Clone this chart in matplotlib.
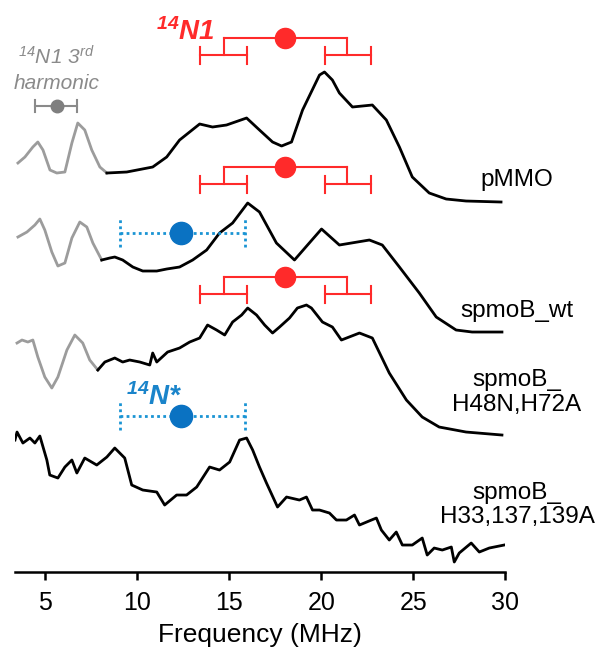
import matplotlib
matplotlib.use('Agg')
import matplotlib.pyplot as plt

plt.rcParams['font.family'] = ['Liberation Sans', 'DejaVu Sans']
plt.rcParams['mathtext.fontset'] = 'custom'
plt.rcParams['mathtext.rm'] = 'Liberation Sans:italic'
plt.rcParams['mathtext.it'] = 'Liberation Sans:italic'
plt.rcParams['mathtext.bf'] = 'Liberation Sans:italic:bold'

# ---------------- data (frequency in MHz, stacked intensity, a.u.) ----------------
# pMMO
pmmo_harm_f = [3.52, 3.90, 4.33, 4.60, 4.88, 5.26, 5.63, 6.07, 6.45, 6.77, 7.15, 7.53, 7.97, 8.35]
pmmo_harm_y = [4.37, 4.43, 4.53, 4.58, 4.50, 4.30, 4.27, 4.28, 4.57, 4.77, 4.70, 4.50, 4.33, 4.27]
pmmo_f = [8.35, 9.43, 10.84, 11.60, 12.30, 13.39, 14.09, 14.85, 15.94, 16.64, 17.35, 17.84,
          18.38, 18.98, 19.90, 20.17, 20.60, 20.98, 21.69, 22.77, 23.53, 24.24, 24.94, 25.86,
          26.78, 27.86, 29.76]
pmmo_y = [4.27, 4.28, 4.33, 4.43, 4.60, 4.76, 4.73, 4.75, 4.82, 4.70, 4.58, 4.54,
          4.58, 4.90, 5.25, 5.28, 5.20, 5.07, 4.93, 4.95, 4.80, 4.53, 4.23, 4.07,
          4.01, 3.99, 3.98]

# spmoB_wt
wt_harm_f = [3.52, 4.01, 4.44, 4.71, 4.98, 5.36, 5.69, 6.07, 6.45, 6.88, 7.26, 7.59, 8.07]
wt_harm_y = [3.63, 3.68, 3.75, 3.81, 3.70, 3.48, 3.34, 3.37, 3.62, 3.78, 3.73, 3.57, 3.40]
wt_f = [8.07, 8.51, 8.78, 9.21, 9.76, 10.30, 11.06, 11.60, 12.30, 13.01, 13.77, 14.47, 15.18,
        16.00, 16.64, 17.56, 18.54, 19.25, 20.01, 20.98, 22.61, 23.31, 24.24, 25.32, 26.24,
        27.32, 28.19, 29.81]
wt_y = [3.40, 3.42, 3.43, 3.40, 3.33, 3.29, 3.29, 3.31, 3.33, 3.40, 3.50, 3.67, 3.77,
        3.97, 3.88, 3.57, 3.40, 3.55, 3.71, 3.55, 3.60, 3.55, 3.33, 3.07, 2.83,
        2.70, 2.68, 2.68]

# spmoB_H48N,H72A
h48_harm_f = [3.47, 3.74, 4.06, 4.33, 4.60, 4.98, 5.36, 5.69, 6.18, 6.61, 7.04, 7.42, 7.86]
h48_harm_y = [2.57, 2.60, 2.58, 2.60, 2.43, 2.23, 2.12, 2.23, 2.50, 2.65, 2.57, 2.40, 2.30]
h48_f = [7.86, 8.24, 8.78, 9.21, 9.59, 10.14, 10.68, 10.84, 11.06, 11.65, 12.30, 12.85, 13.39,
         13.82, 14.31, 14.75, 15.18, 15.67, 16.00, 16.48, 16.92, 17.35, 17.73, 18.27, 18.70,
         19.19, 19.46, 20.06, 20.60, 21.09, 22.07, 22.77, 23.69, 24.62, 25.48, 26.40, 27.86, 29.81]
h48_y = [2.30, 2.38, 2.42, 2.38, 2.40, 2.38, 2.35, 2.47, 2.38, 2.48, 2.52, 2.58, 2.62,
         2.75, 2.70, 2.65, 2.78, 2.85, 2.92, 2.85, 2.75, 2.67, 2.73, 2.82, 2.92,
         2.95, 2.92, 2.78, 2.73, 2.60, 2.67, 2.62, 2.27, 2.00, 1.83, 1.73, 1.68, 1.65]

# spmoB_H33,137,139A
h33_f = [3.36, 3.47, 3.79, 4.17, 4.44, 4.71, 5.09, 5.25, 5.69, 6.07, 6.45, 6.72, 7.15, 7.80,
         8.35, 8.78, 9.32, 9.70, 10.30, 11.06, 11.49, 12.14, 12.68, 13.23, 13.93, 14.47, 15.02,
         15.56, 15.94, 16.27, 16.64, 17.02, 17.62, 18.11, 18.81, 19.19, 19.52, 19.90, 20.44,
         20.82, 21.36, 21.80, 22.07, 22.72, 22.99, 23.26, 23.69, 24.07, 24.40, 24.94, 25.48,
         25.75, 26.13, 26.57, 27.06, 27.22, 27.49, 28.14, 28.58, 29.12, 29.93]
h33_y = [1.60, 1.68, 1.57, 1.62, 1.57, 1.64, 1.40, 1.25, 1.22, 1.33, 1.40, 1.27, 1.42, 1.35,
         1.43, 1.52, 1.42, 1.15, 1.10, 1.08, 0.95, 1.05, 1.05, 1.13, 1.33, 1.30, 1.38,
         1.60, 1.62, 1.50, 1.33, 1.17, 0.93, 1.03, 1.00, 1.03, 0.90, 0.90, 0.87,
         0.80, 0.80, 0.85, 0.75, 0.80, 0.82, 0.70, 0.60, 0.68, 0.55, 0.55, 0.62,
         0.45, 0.52, 0.50, 0.53, 0.38, 0.47, 0.57, 0.48, 0.52, 0.55]

# 14N1 splitting pattern (MHz)
n1_center = 18.0
n1_branches = [14.7, 21.4]
n1_lines = [(13.4, 15.95), (20.2, 22.7)]
n1_levels = [5.62, 4.33, 3.23]          # vertical level of each stick diagram

# 14N* pattern (MHz)
nstar_center = 12.4
nstar_span = (9.05, 15.83)
nstar_levels = [3.67, 1.84]

# 14N1 3rd harmonic marker
harm_center = 5.63
harm_span = (4.44, 6.72)
harm_level = 4.94

sample_names = ['pMMO', 'spmoB_wt', 'spmoB_\nH48N,H72A', 'spmoB_\nH33,137,139A']
label_levels = [4.20, 2.89, 2.075, 0.95]

x_ticks = [5, 10, 15, 20, 25, 30]

# ---------------- figure ----------------
RED = '#FF2A2A'
BLUE_DOT = '#0A72C2'
BLUE_LINE = '#1A94D4'
GRAY = '#9C9C9C'

fig = plt.figure(figsize=(6.07, 6.49), dpi=100)
ax = fig.add_axes([0.0247, 0.1186, 0.808, 0.8814])

lw = 2.0
for hf, hy in [(pmmo_harm_f, pmmo_harm_y), (wt_harm_f, wt_harm_y), (h48_harm_f, h48_harm_y)]:
    ax.plot(hf, hy, color=GRAY, lw=lw, solid_joinstyle='round')
for f, y in [(pmmo_f, pmmo_y), (wt_f, wt_y), (h48_f, h48_y), (h33_f, h33_y)]:
    ax.plot(f, y, color='black', lw=lw, solid_joinstyle='round')

# red 14N1 stick diagrams
drop = 0.17
cap = 0.085
for lev in n1_levels:
    low = lev - drop
    ax.plot([n1_branches[0], n1_branches[1]], [lev, lev], color=RED, lw=1.5)
    for b in n1_branches:
        ax.plot([b, b], [lev, low], color=RED, lw=1.5)
    for a, b in n1_lines:
        ax.plot([a, b], [low, low], color=RED, lw=1.5)
        for e in (a, b):
            ax.plot([e, e], [low - cap, low + cap], color=RED, lw=1.5)
    ax.plot([n1_center], [lev], 'o', color=RED, ms=14.5, mec=RED, zorder=5)

# blue 14N* diagrams
bcap = 0.14
for lev in nstar_levels:
    ax.plot(list(nstar_span), [lev, lev], color=BLUE_LINE, lw=2, ls=(0, (1, 1.2)))
    for e in nstar_span:
        ax.plot([e, e], [lev - bcap, lev + bcap], color=BLUE_LINE, lw=2, ls=(0, (1, 1.2)))
    ax.plot([nstar_center], [lev], 'o', color=BLUE_DOT, ms=16, mec=BLUE_DOT, zorder=5)

# gray harmonic marker
ax.plot(list(harm_span), [harm_level, harm_level], color='#8A8A8A', lw=1.5)
for e in harm_span:
    ax.plot([e, e], [harm_level - 0.06, harm_level + 0.06], color='#8A8A8A', lw=1.5)
ax.plot([harm_center], [harm_level], 'o', color='#7F7F7F', ms=9, zorder=5)

# texts
ax.text(12.6, 5.68, r'$\mathbf{^{14}}$N1', color=RED, fontsize=20, fontweight='bold',
        fontstyle='italic', ha='center', va='center')
ax.text(10.9, 2.03, r'$\mathbf{^{14}}$N*', color='#1A84CA', fontsize=20, fontweight='bold',
        fontstyle='italic', ha='center', va='center')
ax.text(5.63, 5.43, r'$^{14}$N1 3$^{rd}$', color='#8A8A8A', fontsize=15,
        fontstyle='italic', ha='center', va='center')
ax.text(5.63, 5.17, 'harmonic', color='#8A8A8A', fontsize=15,
        fontstyle='italic', ha='center', va='center')

for name, lev in zip(sample_names, label_levels):
    ax.text(30.63, lev, name, fontsize=17.5, ha='center', va='center',
            linespacing=1.15, clip_on=False)

ax.set_xlim(3.36, 30)
ax.set_ylim(0.28, 6.0)
for s in ['top', 'left', 'right']:
    ax.spines[s].set_visible(False)
ax.spines['bottom'].set_linewidth(1.8)
ax.set_yticks([])
ax.set_xticks(x_ticks)
ax.tick_params(axis='x', direction='out', length=6, width=1.8, labelsize=18, pad=7.5)
ax.set_xlabel('Frequency (MHz)', fontsize=19, labelpad=6)

fig.savefig('out.png', dpi=100)
